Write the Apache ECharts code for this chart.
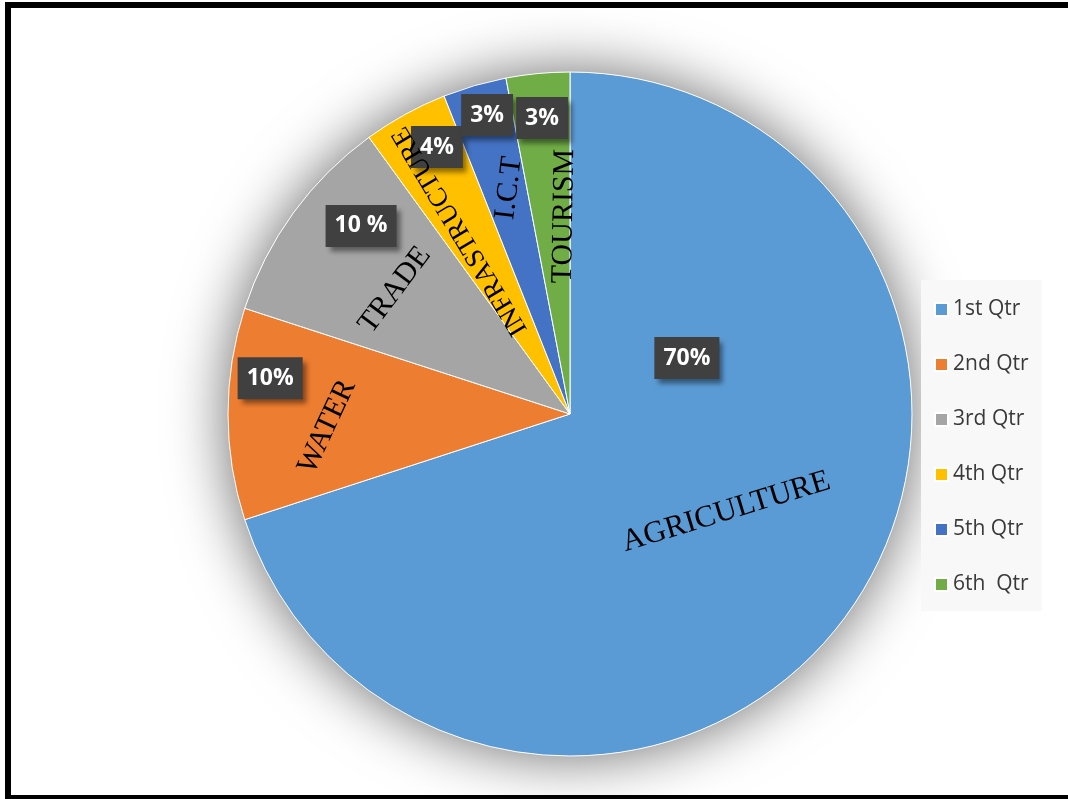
<!DOCTYPE html>
<html>
<head>
<meta charset="utf-8">
<script src="https://cdn.jsdelivr.net/npm/echarts@6/dist/echarts.min.js"></script>
<style>
  html, body { margin: 0; padding: 0; background: #fff; }
  #chart { position: absolute; left: 0; top: 0; width: 1068px; height: 799px; }
  #frame {
    position: absolute; left: 5px; top: 2px; width: 1100px; height: 787px;
    border: 6px solid #000; pointer-events: none;
  }
</style>
</head>
<body>
<div id="chart"></div>
<div id="frame"></div>
<script>
// Sector shares (percent), clockwise from 12 o'clock
const legendNames = ['1st Qtr', '2nd Qtr', '3rd Qtr', '4th Qtr', '5th Qtr', '6th  Qtr'];
const sectors = ['AGRICULTURE', 'WATER', 'TRADE', 'INFRASTRUCTURE', 'I.C.T', 'TOURISM'];
const shares = [70, 10, 10, 4, 3, 3];
const shareLabels = ['70%', '10%', '10 %', '4%', '3%', '3%'];
const colors = ['#5B9BD5', '#ED7D31', '#A5A5A5', '#FFC000', '#4472C4', '#70AD47'];

// Pie geometry
const CX = 570, CY = 414, R = 342;

// Label placement in polar terms: angle clockwise from top (deg), distance as fraction of radius
const pctPos = [[64.4, 0.379], [276.8, 0.883], [312.0, 0.822], [333.5, 0.872], [344.5, 0.907], [354.6, 0.869]];
const namePos = [[122.1, 0.539], [267.0, 0.711], [305.3, 0.627], [329.0, 0.624], [344.9, 0.684], [358.3, 0.579]];
const nameRotate = [17, 65, 53, 121, 83, 89];
const nameSize = [31, 30, 30, 27, 30, 30];

function polar(p) {
  const a = p[0] * Math.PI / 180;
  return { x: CX + p[1] * R * Math.sin(a), y: CY - p[1] * R * Math.cos(a) };
}

const chart = echarts.init(document.getElementById('chart'), null, { renderer: 'canvas' });

const option = {
  backgroundColor: '#ffffff',
  animation: false,
  color: colors,
  legend: {
    orient: 'vertical',
    left: 921,
    top: 280,
    padding: [19, 13, 16, 13],
    backgroundColor: '#f8f8f8',
    icon: 'rect',
    itemWidth: 13,
    itemHeight: 13,
    itemGap: 34,
    data: legendNames,
    selectedMode: false,
    textStyle: { fontFamily: 'Open Sans', fontSize: 21, lineHeight: 21, color: '#3a3a3a' }
  },
  series: [
    {
      // soft halo beneath the pie
      type: 'pie',
      silent: true,
      center: [CX, CY],
      radius: R,
      label: { show: false },
      labelLine: { show: false },
      emphasis: { disabled: true },
      data: [{ value: 1, name: '', itemStyle: { color: '#ffffff', shadowBlur: 60, shadowColor: 'rgba(0,0,0,0.6)' } }]
    },
    {
      type: 'pie',
      center: [CX, CY],
      radius: R,
      startAngle: 90,
      clockwise: true,
      emphasis: { disabled: true },
      itemStyle: { borderColor: '#ffffff', borderWidth: 1 },
      data: shares.map((v, i) => ({ value: v, name: legendNames[i] })),
      label: {
        show: true,
        position: 'inside',
        formatter: p => shareLabels[p.dataIndex],
        fontFamily: 'Open Sans',
        fontWeight: 'bold',
        fontSize: 23,
        lineHeight: 25,
        color: '#ffffff',
        backgroundColor: '#404040',
        padding: [9, 9, 8, 9],
        shadowColor: 'rgba(0,0,0,0.45)',
        shadowBlur: 5,
        shadowOffsetX: 4,
        shadowOffsetY: 5
      },
      labelLine: { show: false },
      labelLayout: p => {
        const pt = polar(pctPos[p.dataIndex]);
        return { x: pt.x, y: pt.y, align: 'center', verticalAlign: 'middle' };
      }
    },
    {
      // sector names written across the slices
      type: 'pie',
      silent: true,
      center: [CX, CY],
      radius: R,
      startAngle: 90,
      clockwise: true,
      emphasis: { disabled: true },
      itemStyle: { color: 'rgba(0,0,0,0)' },
      data: shares.map((v, i) => ({ value: v, name: sectors[i] })),
      label: {
        show: true,
        position: 'inside',
        formatter: p => '{s' + p.dataIndex + '|' + sectors[p.dataIndex] + '}',
        fontFamily: 'Liberation Serif',
        color: '#000000',
        rich: Object.fromEntries(nameSize.map((s, i) => ['s' + i, { fontFamily: 'Liberation Serif', fontSize: s, color: '#000000' }]))
      },
      labelLine: { show: false },
      labelLayout: p => {
        const pt = polar(namePos[p.dataIndex]);
        return { x: pt.x, y: pt.y, rotate: nameRotate[p.dataIndex], align: 'center', verticalAlign: 'middle' };
      }
    }
  ]
};

chart.setOption(option);
</script>
</body>
</html>
